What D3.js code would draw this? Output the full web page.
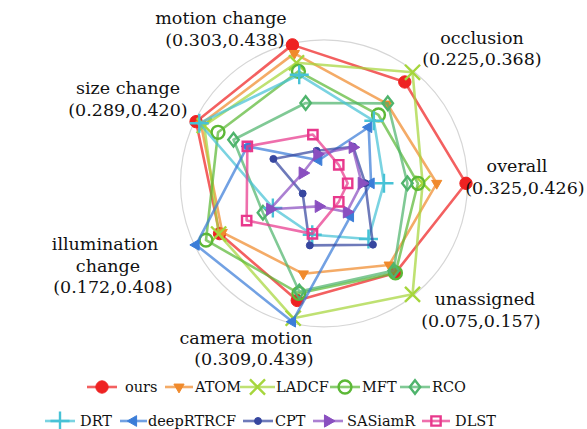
<!DOCTYPE html>
<html>
<head>
<meta charset="utf-8">
<script src="https://cdn.jsdelivr.net/npm/d3@7/dist/d3.min.js"></script>
<style>
  html, body { margin: 0; padding: 0; background: #fff; }
  svg { display: block; }
  text { font-family: "DejaVu Serif", serif; fill: #111; }
</style>
</head>
<body>
<svg id="chart" width="587" height="429"></svg>
<script>
// Attribute axes, counter-clockwise from the right
const axes = ["overall", "occlusion", "motion change", "size change",
              "illumination change", "camera motion", "unassigned"];
const axisMin = [0.325, 0.225, 0.303, 0.289, 0.172, 0.309, 0.075];
const axisMax = [0.426, 0.368, 0.438, 0.420, 0.408, 0.439, 0.157];

const trackers = ["ours", "ATOM", "LADCF", "MFT", "RCO",
                  "DRT", "deepRTRCF", "CPT", "SASiamR", "DLST"];

// Scores per tracker, in axis order
const ours      = [0.426, 0.353, 0.438, 0.420, 0.356, 0.415, 0.138];
const atom      = [0.401, 0.319, 0.428, 0.414, 0.350, 0.385, 0.131];
const ladcf     = [0.389, 0.368, 0.417, 0.410, 0.358, 0.435, 0.157];
const mft       = [0.385, 0.302, 0.407, 0.393, 0.386, 0.407, 0.138];
const rco       = [0.376, 0.320, 0.370, 0.374, 0.260, 0.405, 0.136];
const drt       = [0.356, 0.293, 0.403, 0.416, 0.238, 0.341, 0.108];
const deeprtrcf = [0.345, 0.283, 0.303, 0.357, 0.408, 0.439, 0.088];
const cpt       = [0.340, 0.253, 0.314, 0.325, 0.172, 0.353, 0.113];
const sasiamr   = [0.337, 0.252, 0.310, 0.289, 0.244, 0.309, 0.084];
const dlst      = [0.325, 0.225, 0.333, 0.357, 0.296, 0.340, 0.075];

const seriesValues = [ours, atom, ladcf, mft, rco, drt, deeprtrcf, cpt, sasiamr, dlst];

// ---- styling ----
const colors = ["#ee2222", "#f08a2c", "#a6d63c", "#5cb836", "#4fb46c",
                "#47c2d6", "#3b7dd8", "#36469f", "#8a4fc0", "#e8388c"];
const markers = [
  { type: d3.symbolCircle,    size: 120, fill: true },               // ours
  { type: d3.symbolTriangle,  size: 45,  fill: true,  rot: 180 },    // ATOM
  { type: d3.symbolX,         size: 150, fill: false },              // LADCF
  { type: d3.symbolCircle,    size: 130, fill: false },              // MFT
  { type: d3.symbolDiamond2,  size: 70,  fill: false, sy: 1.3 },     // RCO
  { type: d3.symbolPlus,      size: 120, fill: false },              // DRT
  { type: d3.symbolTriangle,  size: 50,  fill: true,  rot: -90 },    // deepRTRCF
  { type: d3.symbolCircle,    size: 38,  fill: true },               // CPT
  { type: d3.symbolTriangle,  size: 65,  fill: true,  rot: 90 },     // SASiamR
  { type: d3.symbolSquare2,   size: 110, fill: false }               // DLST
];

const svg = d3.select("#chart");
const cx = 324, cy = 183.3, R = 142, r0 = R / 6;
const n = axes.length;
const angle = i => i * 2 * Math.PI / n;

const rScales = axes.map((a, i) =>
  d3.scaleLinear().domain([axisMin[i], axisMax[i]]).range([r0, R]));

const px = (v, i) => cx + rScales[i](v) * Math.cos(angle(i));
const py = (v, i) => cy - rScales[i](v) * Math.sin(angle(i));

// outer ring
svg.append("circle")
  .attr("cx", cx).attr("cy", cy).attr("r", R + 1.5)
  .attr("fill", "none").attr("stroke", "#d6d6d6").attr("stroke-width", 1.2);

const line = d3.line()
  .x(d => px(d.v, d.i))
  .y(d => py(d.v, d.i))
  .curve(d3.curveLinearClosed);

function symbolPath(m) {
  return d3.symbol().type(m.type).size(m.size)();
}
function markerTransform(m, x, y) {
  let t = `translate(${x},${y})`;
  if (m.rot) t += ` rotate(${m.rot})`;
  if (m.sy) t += ` scale(1,${m.sy})`;
  return t;
}
function styleMarker(sel, k) {
  const m = markers[k];
  sel.attr("d", symbolPath(m))
    .attr("fill", m.fill ? colors[k] : "none")
    .attr("stroke", colors[k])
    .attr("stroke-width", m.fill ? 1 : 2.4)
    .attr("vector-effect", "non-scaling-stroke");
}

const g = svg.append("g");
trackers.forEach((name, k) => {
  const pts = seriesValues[k].map((v, i) => ({ v, i }));
  const grp = g.append("g").attr("class", "series");
  grp.append("path")
    .attr("d", line(pts))
    .attr("fill", "none")
    .attr("stroke", colors[k])
    .attr("stroke-opacity", 0.72)
    .attr("stroke-width", 2.6)
    .attr("stroke-linejoin", "round");
  grp.selectAll("path.mk").data(pts).enter().append("path")
    .attr("class", "mk")
    .attr("transform", d => markerTransform(markers[k], px(d.v, d.i), py(d.v, d.i)))
    .call(styleMarker, k);
});

// axis labels: name lines followed by "(min,max)"
const fmt = d3.format(".3f");
const labelLayout = [
  { lines: [["overall", 517, 172], ["range", 525, 194]] },
  { lines: [["occlusion", 482, 44], ["range", 482, 65]] },
  { lines: [["motion change", 221, 24], ["range", 225, 46]] },
  { lines: [["size change", 128, 94], ["range", 128, 116]] },
  { lines: [["illumination", 105, 250], ["change", 108, 272], ["range", 113, 293]] },
  { lines: [["camera motion", 246, 344], ["range", 254, 365]] },
  { lines: [["unassigned", 485, 305], ["range", 481, 327]] }
];
labelLayout.forEach((lay, i) => {
  lay.lines.forEach(([txt, x, y]) => {
    svg.append("text")
      .attr("x", x).attr("y", y)
      .attr("text-anchor", "middle")
      .attr("font-size", 17.5)
      .text(txt === "range" ? `(${fmt(axisMin[i])},${fmt(axisMax[i])})` : txt);
  });
});

// legend
const legendLayout = [
  [87, 30, 125, 387], [165, 28, 195, 387], [240, 35, 276, 387], [330, 30, 362, 387], [400, 30, 432, 387],
  [45, 30, 80, 421], [120, 27, 148, 421], [243, 30, 275, 421], [313, 30, 347, 421], [422, 28, 455, 421]
];
const lg = svg.append("g");
trackers.forEach((name, k) => {
  const [lx, len, tx, ly] = legendLayout[k];
  lg.append("line")
    .attr("x1", lx).attr("x2", lx + len).attr("y1", ly).attr("y2", ly)
    .attr("stroke", colors[k]).attr("stroke-opacity", 0.72).attr("stroke-width", 2.6);
  lg.append("path")
    .attr("transform", markerTransform(markers[k], lx + len / 2, ly))
    .call(styleMarker, k);
  lg.append("text")
    .attr("x", tx).attr("y", ly + 5)
    .attr("font-size", 14.5)
    .text(name);
});
</script>
</body>
</html>
